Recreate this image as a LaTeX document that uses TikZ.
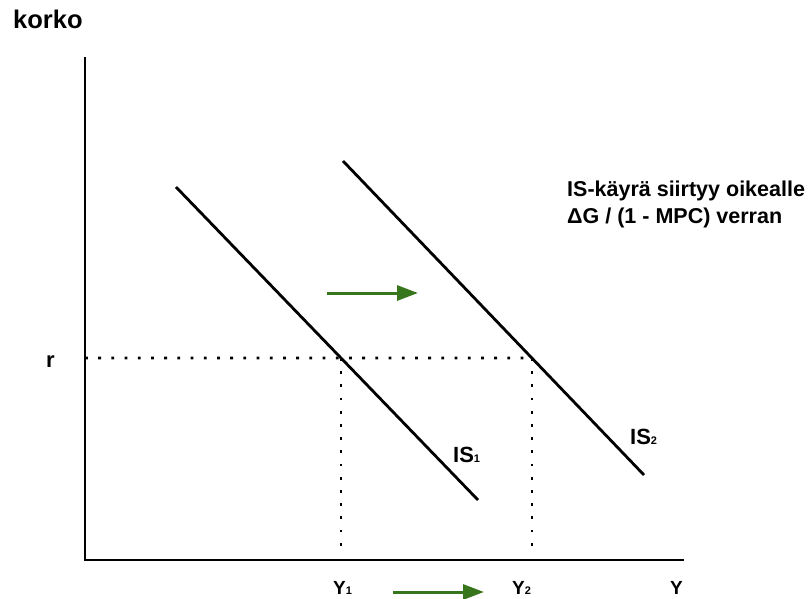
\documentclass[tikz,border=0pt]{standalone}
\usepackage{fontspec}
\setmainfont{Liberation Sans}
\usetikzlibrary{arrows.meta}

\tikzset{
  axis/.style={line width=2.8pt, line cap=rect},
  iscurve/.style={line width=2.8pt},
  guide/.style={line width=2.8pt, dash pattern=on 2.8pt off 10.4pt},
  movearrow/.style={draw={rgb,255:red,56;green,118;blue,29}, line width=3pt,
    -{Triangle[length=21pt,width=15pt]}},
  lab/.style={anchor=base west, inner sep=0pt, font=\fontsize{22}{22}\selectfont\bfseries},
  ylab/.style={anchor=base west, inner sep=0pt, font=\fontsize{19}{19}\selectfont\bfseries}
}
\newcommand{\idx}[1]{{\fontsize{11}{11}\selectfont #1}}

\begin{document}
\begin{tikzpicture}[x=1pt, y=-1pt]
\useasboundingbox (0,0) rectangle (812,598);

\def\rlev{358}

% akselit
\coordinate (top) at (85,58);
\coordinate (origo) at (85,560);
\coordinate (right) at (683,560);
\draw[axis] (top) -- (origo) -- (right);

% IS-käyrät
\coordinate (is1a) at (176,187);
\coordinate (is1b) at (478,500);
\coordinate (is2a) at (343,161);
\coordinate (is2b) at (644,475);
\draw[iscurve] (is1a) -- (is1b);
\draw[iscurve] (is2a) -- (is2b);

% korkotaso r ja tasapainot
\coordinate (rl) at (85,\rlev);
\coordinate (rr) at (700,\rlev);
\coordinate (e1) at (intersection of is1a--is1b and rl--rr);
\coordinate (e2) at (intersection of is2a--is2b and rl--rr);
\draw[guide] (rl) -- (e2);
\draw[guide] (e1) -- (e1 |- 0,548);
\draw[guide] (e2) -- (e2 |- 0,548);

% siirtymänuolet
\coordinate (s1) at (327,293);
\coordinate (s2) at (418,293);
\coordinate (t1) at (393,592);
\coordinate (t2) at (484,592);
\draw[movearrow] (s1) -- (s2);
\draw[movearrow] (t1) -- (t2);

% tekstit
\node[lab, font=\fontsize{25.5}{25.5}\selectfont\bfseries] (korko) at (13,28) {korko};
\node[lab] (r) at (46,367) {r};
\node[lab] (is1) at (453,462) {IS\idx{1}};
\node[lab] (is2) at (630,444) {IS\idx{2}};
\node[ylab] (y1) at (333,594) {Y\idx{1}};
\node[ylab] (y2) at (512,594) {Y\idx{2}};
\node[ylab] (y) at (670,594) {Y};
\node[lab, font=\fontsize{21.5}{21.5}\selectfont\bfseries] (txt1) at (567,196) {IS-käyrä siirtyy oikealle};
\node[lab, font=\fontsize{21.5}{21.5}\selectfont\bfseries] (txt2) at (567,223) {ΔG / (1 - MPC) verran};

\end{tikzpicture}
\end{document}
